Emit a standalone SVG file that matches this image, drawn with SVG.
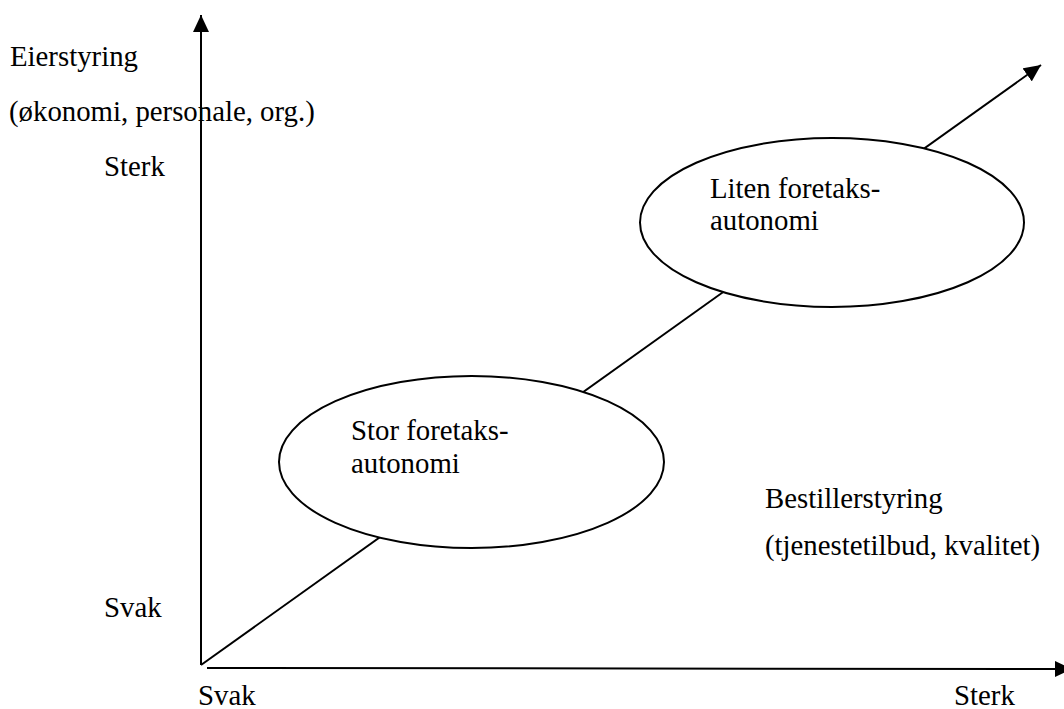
<svg xmlns="http://www.w3.org/2000/svg" width="1064" height="709" viewBox="0 0 1064 709">
<style>
.t{font-family:"Liberation Serif","Times New Roman",serif;font-size:28.8px;fill:#000}
.ax{stroke:#000;stroke-width:2;fill:none}
.el{stroke:#000;stroke-width:2;fill:#fff}
</style>
<defs>
<marker id="arr" markerUnits="userSpaceOnUse" markerWidth="18" markerHeight="16" refX="17" refY="8" orient="auto" viewBox="0 0 18 16">
<path d="M0,0 L17,8 L0,16 z" fill="#000"/>
</marker>
</defs>
<g id="connectors">
<line class="ax" x1="201" y1="665" x2="201" y2="15" marker-end="url(#arr)"/>
<line class="ax" x1="207" y1="668" x2="1072" y2="669" marker-end="url(#arr)"/>
<line class="ax" x1="201" y1="665" x2="1041" y2="65" marker-end="url(#arr)"/>
</g>
<g id="node-stor">
<ellipse class="el" cx="471.5" cy="462" rx="192.5" ry="86"/>
<text class="t" x="351" y="440">Stor foretaks-</text>
<text class="t" x="351" y="473">autonomi</text>
</g>
<g id="node-liten">
<ellipse class="el" cx="832" cy="222.5" rx="192" ry="84.5"/>
<text class="t" x="710" y="198">Liten foretaks-</text>
<text class="t" x="710" y="230">autonomi</text>
</g>
<g id="labels">
<text class="t" x="10" y="66">Eierstyring</text>
<text class="t" x="9" y="121">(økonomi, personale, org.)</text>
<text class="t" x="104" y="176">Sterk</text>
<text class="t" x="104" y="617">Svak</text>
<text class="t" x="198" y="705">Svak</text>
<text class="t" x="954" y="705">Sterk</text>
<text class="t" x="765" y="508">Bestillerstyring</text>
<text class="t" x="765" y="555">(tjenestetilbud, kvalitet)</text>
</g>
</svg>
